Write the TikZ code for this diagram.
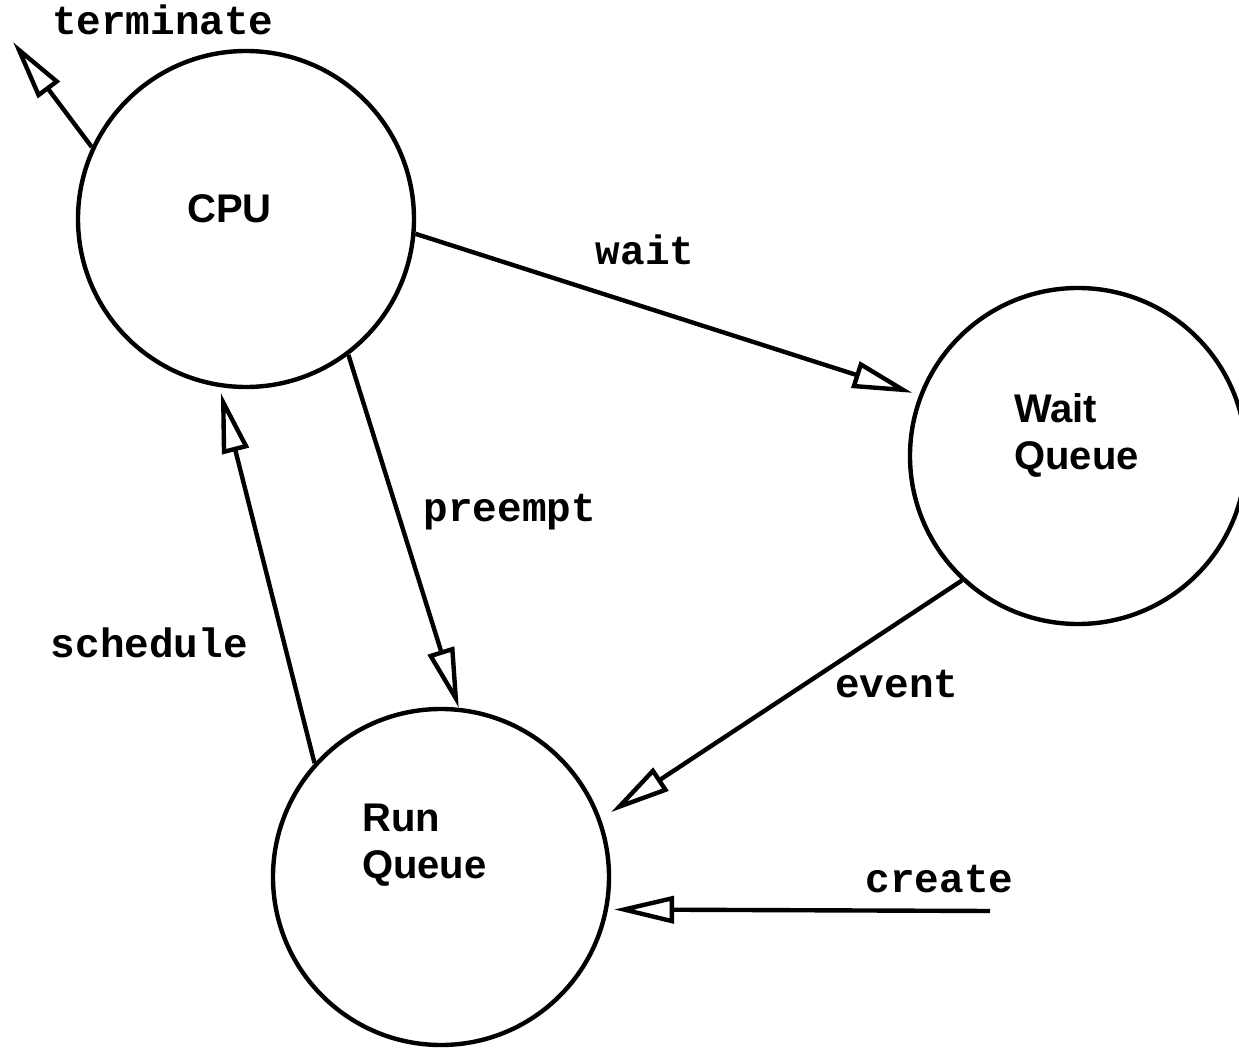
\documentclass[tikz,border=0pt]{standalone}
\usepackage{fontspec}
\setmainfont{Liberation Sans}
\setmonofont{Liberation Mono}
\usetikzlibrary{arrows.meta,positioning}

\begin{document}
\begin{tikzpicture}[on grid,line width=2.2pt,
    >={Triangle[open,length=30pt,width=13.5pt]},
    proc/.style={circle,draw,minimum size=168pt,inner sep=0pt},
    txt/.style={font=\fontsize{20}{23.5}\selectfont\bfseries,align=left,inner sep=0pt},
    lbl/.style={font=\fontsize{20.5}{24}\selectfont\ttfamily\bfseries,inner sep=0pt}]
        \useasboundingbox (-123pt,109.5pt) rectangle (496.5pt,-415pt);
        \node[proc] (cpu) {};
        \node[proc] (wait) [below right=118.5pt and 416pt of cpu] {};
        \node[proc] (run) [below right=329pt and 97.5pt of cpu] {};
        \node[txt] (cputxt) [above left=13.5pt and 30.5pt of cpu,anchor=north west] {CPU};
        \node[txt] (waittxt) [above left=32.5pt and 33pt of wait,anchor=north west] {Wait\\Queue};
        \node[txt] (runtxt) [above left=37.5pt and 40.5pt of run,anchor=north west] {Run\\Queue};
        \coordinate[above left=88.5pt and 116.5pt of cpu] (gone);
        \coordinate[below right=17pt and 274.5pt of run] (born);
        \path[->]
        (cpu.155) edge node[lbl,at end,above right=2.5pt and 18.5pt] {terminate} (gone)
        (cpu.-5) edge[shorten >=3.5pt] node[lbl,pos=.456,above=20pt] {wait} (wait.159)
        (cpu.-53) edge node[lbl,pos=.462,anchor=base west,xshift=11pt,yshift=-2pt] {preempt} (run.84)
        (run.138) edge[shorten >=3pt] node[lbl,pos=.29,anchor=base east,xshift=-18.5pt,yshift=-1.5pt] {schedule} (cpu.261)
        (wait.-133) edge[shorten >=6pt] node[lbl,pos=.49,anchor=base west,xshift=24pt] {event} (run.20)
        (born) edge[shorten >=3pt] node[lbl,pos=.132,above=8pt] {create} (run.-11.5);
\end{tikzpicture}
\end{document}
